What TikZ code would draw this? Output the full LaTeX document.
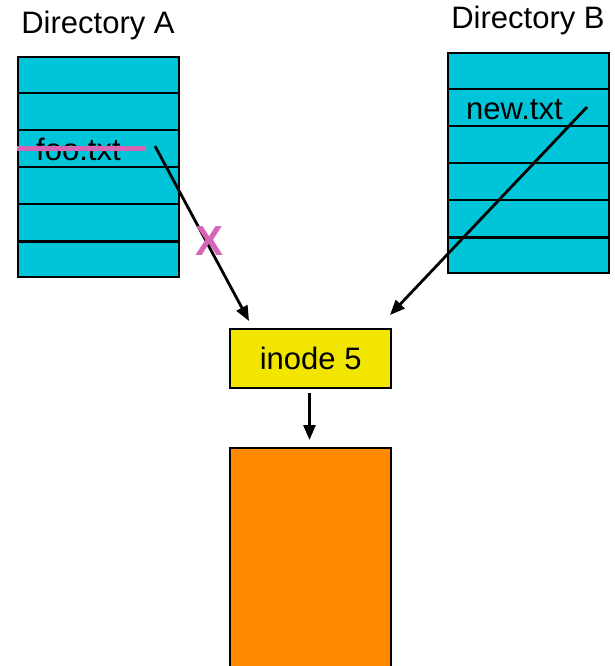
\documentclass[tikz,border=0pt]{standalone}
\usepackage{fontspec}
\setmainfont{Liberation Sans}
\usetikzlibrary{arrows.meta,calc}
\definecolor{dircyan}{HTML}{00C5D8}
\definecolor{inodeyellow}{HTML}{F2E600}
\definecolor{dataorange}{HTML}{FF8A00}
\definecolor{strikepink}{HTML}{D765B5}
\tikzset{
  lbl/.style={font=\fontsize{31}{31}\selectfont, inner sep=0pt},
  tablebox/.style={draw=black, line width=2.4pt, fill=dircyan, rectangle, inner sep=0pt, minimum width=161pt, minimum height=220pt},
  rowline/.style={line width=2.4pt},
  link/.style={line width=2.8pt, -{Triangle[length=15pt,width=12pt]}},
}
\begin{document}
\begin{tikzpicture}[x=1pt,y=-1pt]
\useasboundingbox (0,0) rectangle (615,666);
\clip (0,0) rectangle (615,666);
% Directory A
\node[tablebox, anchor=north west] (dirA) at (17,56) {};
\foreach \r in {1,...,5} {
  \draw[rowline] ($(dirA.north west)!\r/6!(dirA.south west)$) -- ($(dirA.north east)!\r/6!(dirA.south east)$);
}
\node[lbl, anchor=base] (labA) at (98,34) {Directory A};
\node[lbl, anchor=base west] (foo) at (36,160) {foo.txt};
% Directory B
\node[tablebox, anchor=north west] (dirB) at (447,52) {};
\foreach \r in {1,...,5} {
  \draw[rowline] ($(dirB.north west)!\r/6!(dirB.south west)$) -- ($(dirB.north east)!\r/6!(dirB.south east)$);
}
\node[lbl, anchor=base] (labB) at (528,28.5) {Directory B};
\node[lbl, anchor=base west] (newtxt) at (466,119.5) {new.txt};
% inode
\node[draw=black, line width=2.4pt, fill=inodeyellow, anchor=north west, minimum width=161pt, minimum height=59pt, inner sep=0pt] (inode) at (229,328) {};
\node[lbl] (inodetxt) at (inode.center) {inode 5};
% data block
\node[draw=black, line width=2.4pt, fill=dataorange, anchor=north west, minimum width=161pt, minimum height=240pt, inner sep=0pt] (data) at (229,447) {};
% strike
\coordinate (sA) at (17,148);
\coordinate (sB) at (146,148);
\draw[strikepink, line width=5pt] (sA) -- (sB);
% connectors
\coordinate (aStart) at (155,146);
\coordinate (aEnd) at (249,321);
\draw[link] (aStart) -- (aEnd);
\coordinate (bStart) at (587,107);
\coordinate (bEnd) at (390,315);
\draw[link] (bStart) -- (bEnd);
\coordinate (cStart) at (309.5,393);
\coordinate (cEnd) at (309.5,440);
\draw[link] (cStart) -- (cEnd);
% X mark
\node[inner sep=0pt, text=strikepink, font=\bfseries\fontsize{42}{42}\selectfont] (xmark) at (210,241) {X};
\end{tikzpicture}
\end{document}
